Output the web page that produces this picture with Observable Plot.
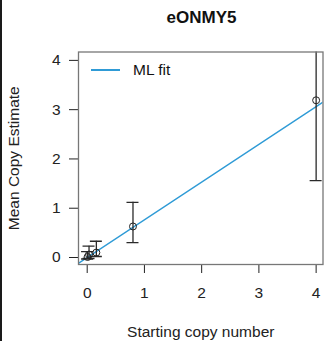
<!DOCTYPE html>
<html><head><meta charset="utf-8">
<script src="https://cdn.jsdelivr.net/npm/d3@7"></script>
<script src="https://cdn.jsdelivr.net/npm/@observablehq/plot@0.6"></script>
<style>
body{margin:0;background:#fff;font-family:"Liberation Sans",Arial,sans-serif;}
#wrap{position:relative;width:325px;height:341px;overflow:hidden;}
#edge{position:absolute;left:0;top:0;width:2px;height:341px;background:#1a1a1a;}
#title{height:34px;line-height:36px;text-align:center;font-weight:bold;font-size:17px;margin-left:78px;width:247px;color:#111;}
#legline{position:absolute;left:91px;top:69px;width:29px;height:1.6px;background:#2f9bd6;}
#legtext{position:absolute;left:133px;top:61px;font-size:15.5px;line-height:18px;color:#111;}
svg{display:block;}
</style>
</head><body>
<div id="wrap">
<div id="title">eONMY5</div>
<div id="chart"></div>
<div id="legline"></div>
<div id="legtext">ML fit</div>
<div id="edge"></div>
</div>
<script>
// data
const startCopies = [0.0064, 0.032, 0.16, 0.8, 4];
const meanEstimate = [0.01, 0.06, 0.10, 0.63, 3.19];
const lowerBound = [-0.03, -0.02, 0.02, 0.30, 1.56];
const upperBound = [0.12, 0.23, 0.33, 1.12, 4.5];
const xTicks = [0, 1, 2, 3, 4];
const yTicks = [0, 1, 2, 3, 4];
const fitSlope = 0.765;
const fitIntercept = 0;
const fitX = [-0.3, 4.4];

const pts = startCopies.map((x, i) => ({x, y: meanEstimate[i], lo: lowerBound[i], hi: upperBound[i]}));
const fit = fitX.map(x => ({x, y: fitIntercept + fitSlope * x}));

const chart = Plot.plot({
  width: 325,
  height: 307,
  marginTop: 17.5,
  marginLeft: 78,
  marginRight: 2.5,
  marginBottom: 77,
  style: {fontFamily: "'Liberation Sans', Arial, sans-serif", fontSize: "15.5px", color: "#222", background: "#fff"},
  x: {domain: [-0.152, 4.12], ticks: xTicks, tickFormat: d => String(d), tickSize: 9, tickPadding: 13,
      label: "Starting copy number", labelAnchor: "center", labelOffset: 72, labelArrow: "none"},
  y: {domain: [-0.142, 4.17], ticks: yTicks, tickFormat: d => String(d), tickSize: 9, tickPadding: 9,
      label: "Mean Copy Estimate", labelAnchor: "center", labelOffset: 71, labelArrow: "none"},
  marks: [
    Plot.line(fit, {x: "x", y: "y", stroke: "#2f9bd6", strokeWidth: 1.5, clip: true}),
    Plot.ruleX(pts, {x: "x", y1: "lo", y2: "hi", stroke: "#2a2a2a", strokeWidth: 1.3, clip: true}),
    Plot.ruleY(pts, {y: "hi", x1: "x", x2: "x", insetLeft: -6, insetRight: -6, stroke: "#2a2a2a", strokeWidth: 1.3, clip: true}),
    Plot.ruleY(pts, {y: "lo", x1: "x", x2: "x", insetLeft: -6, insetRight: -6, stroke: "#2a2a2a", strokeWidth: 1.3, clip: true}),
    Plot.dot(pts, {x: "x", y: "y", r: 3.5, stroke: "#222", strokeWidth: 1, fill: "none"}),
    Plot.frame({stroke: "#777", strokeWidth: 1.3})
  ]
});
document.getElementById("chart").appendChild(chart);
</script>
</body></html>
